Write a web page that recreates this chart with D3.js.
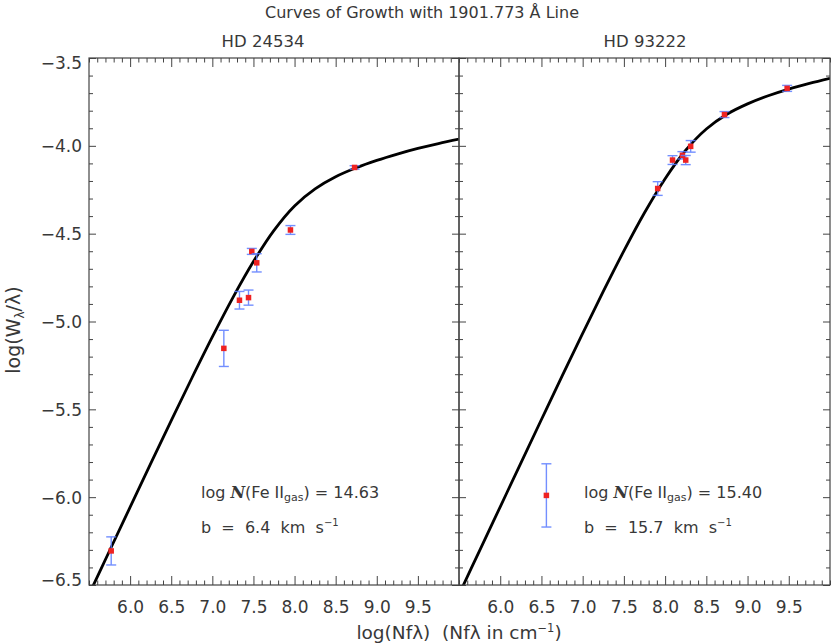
<!DOCTYPE html>
<html><head><meta charset="utf-8">
<script src="https://cdn.jsdelivr.net/npm/d3@7/dist/d3.min.js"></script>
<style>
body{margin:0;background:#fff}
svg text{font-family:"DejaVu Sans",sans-serif;fill:#383838}
</style></head><body>
<svg id="c" width="831" height="644" xmlns="http://www.w3.org/2000/svg"></svg>
<script>
// ---------- data ----------
const xTickLabels = [6.0, 6.5, 7.0, 7.5, 8.0, 8.5, 9.0, 9.5];
const yTickLabels = [-3.5, -4.0, -4.5, -5.0, -5.5, -6.0, -6.5];
const curveX = [5.5, 5.75, 6.0, 6.25, 6.5, 6.75, 7.0, 7.25, 7.5, 7.75, 8.0, 8.25, 8.5, 8.75, 9.0, 9.25, 9.5, 9.75, 10.0];
const leftCurveY = [-6.554, -6.305, -6.057, -5.809, -5.564, -5.323, -5.088, -4.864, -4.659, -4.481, -4.342, -4.245, -4.176, -4.125, -4.083, -4.047, -4.015, -3.987, -3.962];
const rightCurveY = [-6.554, -6.304, -6.055, -5.806, -5.558, -5.311, -5.068, -4.829, -4.598, -4.381, -4.187, -4.025, -3.904, -3.820, -3.761, -3.715, -3.677, -3.645, -3.616];
const leftX = [5.77, 7.14, 7.33, 7.44, 7.48, 7.54, 7.95, 8.73];
const leftY = [-6.306, -5.153, -4.879, -4.864, -4.601, -4.666, -4.479, -4.123];
const leftErr = [0.080, 0.103, 0.050, 0.043, 0.017, 0.052, 0.025, 0.010];
const rightX = [7.91, 8.09, 8.21, 8.25, 8.31, 8.72, 9.48];
const rightY = [-4.243, -4.081, -4.054, -4.081, -4.003, -3.822, -3.673];
const rightErr = [0.039, 0.025, 0.021, 0.026, 0.033, 0.017, 0.017];
const legendX = [6.56];
const legendY = [-5.99];
const legendErr = [0.18];
const stars = ["HD 24534", "HD 93222"];
const logN = ["14.63", "15.40"];
const bVal = ["6.4", "15.7"];

// ---------- layout ----------
const svg = d3.select("#c");
const yTop = 58, yBot = 585;
const y = d3.scaleLinear().domain([-6.5, -3.5]).range([yBot, yTop]);
const panels = [
  {x0: 89, x1: 459, cx: curveX, cy: leftCurveY, px: leftX, py: leftY, pe: leftErr, lx: [], ly: [], le: []},
  {x0: 459, x1: 830, cx: curveX, cy: rightCurveY, px: rightX, py: rightY, pe: rightErr, lx: legendX, ly: legendY, le: legendErr}
];
const axisCol = "#444";
const errCol = "#5b7cff";
const ptCol = "#ee2222";
const xMinor = d3.range(55, 101).map(d => d / 10);
const yMinor = d3.range(-65, -34).map(d => d / 10);

svg.append("text").attr("x", 422).attr("y", 18).attr("text-anchor", "middle")
  .attr("font-size", 16).text("Curves of Growth with 1901.773 Å Line");

panels.forEach((p, i) => {
  const x = d3.scaleLinear().domain([5.5, 10]).range([p.x0, p.x1]);
  const g = svg.append("g");
  const cid = "clip" + i;
  svg.append("clipPath").attr("id", cid).append("rect")
    .attr("x", p.x0).attr("y", yTop).attr("width", p.x1 - p.x0).attr("height", yBot - yTop);

  svg.append("text").attr("x", i === 0 ? 263 : 645).attr("y", 47).attr("text-anchor", "middle")
    .attr("font-size", 16.5).text(stars[i]);

  const line = d3.line().x((d, k) => x(p.cx[k])).y(d => y(d)).curve(d3.curveCatmullRom.alpha(0.5));
  g.append("path").attr("d", line(p.cy)).attr("fill", "none").attr("stroke", "#000")
    .attr("stroke-width", 2.8).attr("clip-path", `url(#${cid})`);

  const drawPts = (xs, ys, es) => {
    xs.forEach((xv, k) => {
      const cx = x(xv), y1 = y(ys[k] - es[k]), y2 = y(ys[k] + es[k]);
      const eg = g.append("g").attr("stroke", errCol).attr("stroke-width", 1.4).attr("opacity", 0.85);
      eg.append("line").attr("x1", cx).attr("x2", cx).attr("y1", y1).attr("y2", y2);
      eg.append("line").attr("x1", cx - 5).attr("x2", cx + 5).attr("y1", y1).attr("y2", y1);
      eg.append("line").attr("x1", cx - 5).attr("x2", cx + 5).attr("y1", y2).attr("y2", y2);
      g.append("rect").attr("x", cx - 2.75).attr("y", y(ys[k]) - 2.75).attr("width", 5.5).attr("height", 5.5)
        .attr("fill", ptCol);
    });
  };
  drawPts(p.px, p.py, p.pe);
  drawPts(p.lx, p.ly, p.le);

  const styleAxis = sel => {
    sel.select(".domain").remove();
    sel.selectAll("line").attr("stroke", axisCol);
    sel.selectAll("text").attr("font-size", 17).attr("fill", "#383838").attr("font-family", "DejaVu Sans");
  };
  const minorX = xMinor.filter(v => !xTickLabels.includes(v));
  const minorY = yMinor.filter(v => !yTickLabels.includes(v));
  g.append("g").attr("transform", `translate(0,${yBot})`)
    .call(d3.axisBottom(x).tickValues(minorX).tickSize(-4.5).tickFormat("")).call(styleAxis);
  g.append("g").attr("transform", `translate(0,${yBot})`)
    .call(d3.axisBottom(x).tickValues(xTickLabels).tickSize(-9).tickPadding(16).tickFormat(d3.format(".1f")))
    .call(styleAxis);
  g.append("g").attr("transform", `translate(0,${yTop})`)
    .call(d3.axisTop(x).tickValues(minorX).tickSize(-4.5).tickFormat("")).call(styleAxis);
  g.append("g").attr("transform", `translate(0,${yTop})`)
    .call(d3.axisTop(x).tickValues(xTickLabels).tickSize(-9).tickFormat("")).call(styleAxis);
  g.append("g").attr("transform", `translate(${p.x0},0)`)
    .call(d3.axisLeft(y).tickValues(minorY).tickSize(-4).tickFormat("")).call(styleAxis);
  const ly = g.append("g").attr("transform", `translate(${p.x0},0)`)
    .call(d3.axisLeft(y).tickValues(yTickLabels).tickSize(-7).tickPadding(7)
      .tickFormat(i === 0 ? (d => d3.format(".1f")(d).replace("-", "\u2212")) : ""))
    .call(styleAxis);
  if (i === 0) {
    ly.selectAll(".tick text").attr("dy", d => d === -3.5 ? "0.62em" : d === -6.5 ? "0.05em" : "0.35em");
  }
  g.append("g").attr("transform", `translate(${p.x1},0)`)
    .call(d3.axisRight(y).tickValues(minorY).tickSize(-4).tickFormat("")).call(styleAxis);
  g.append("g").attr("transform", `translate(${p.x1},0)`)
    .call(d3.axisRight(y).tickValues(yTickLabels).tickSize(-7).tickFormat("")).call(styleAxis);
  g.append("rect").attr("x", p.x0).attr("y", yTop).attr("width", p.x1 - p.x0).attr("height", yBot - yTop)
    .attr("fill", "none").attr("stroke", axisCol).attr("stroke-width", 1.2);

  const tx = i === 0 ? 201 : 584;
  const t1 = svg.append("text").attr("x", tx).attr("y", 498).attr("font-size", 16).attr("xml:space", "preserve");
  t1.append("tspan").text("log ");
  t1.append("tspan").attr("font-family", "DejaVu Serif").attr("font-style", "italic").attr("font-weight", "bold").text("N");
  t1.append("tspan").text("(Fe II");
  t1.append("tspan").attr("font-size", 11).attr("dy", 3).text("gas");
  t1.append("tspan").attr("dy", -3).text(") = " + logN[i]);
  const t2 = svg.append("text").attr("x", tx).attr("y", 533).attr("font-size", 16).attr("xml:space", "preserve");
  t2.append("tspan").text("b  =  " + bVal[i] + "  km  s");
  t2.append("tspan").attr("font-size", 10).attr("dy", -7).text("\u22121");
});

const xt = svg.append("text").attr("x", 459).attr("y", 639).attr("text-anchor", "middle").attr("font-size", 18.5).attr("xml:space", "preserve");
xt.append("tspan").text("log(Nfλ)  (Nfλ in cm");
xt.append("tspan").attr("font-size", 11.5).attr("dy", -7).text("\u22121");
xt.append("tspan").attr("dy", 7).text(")");
const yt = svg.append("text").attr("transform", "translate(20,330) rotate(-90)").attr("text-anchor", "middle").attr("font-size", 19);
yt.append("tspan").text("log(W");
yt.append("tspan").attr("font-size", 12).attr("dy", 4).text("λ");
yt.append("tspan").attr("dy", -4).text("/λ)");
</script></body></html>
